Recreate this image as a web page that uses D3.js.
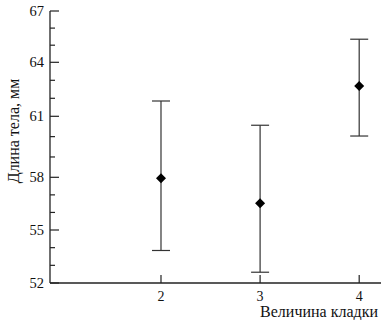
<!DOCTYPE html>
<html>
<head>
<meta charset="utf-8">
<script src="https://cdn.jsdelivr.net/npm/d3@7"></script>
<style>
  body { margin: 0; background: #fff; }
</style>
</head>
<body>
<div id="chart"></div>
<script>
// clutch size vs body length
const clutchSizes = [2, 3, 4];
const meanLength = [57.94, 56.52, 62.68];
const lowerLength = [53.84, 52.61, 60.03];
const upperLength = [61.85, 60.56, 65.35];
const yTickValues = [52, 55, 58, 61, 64, 67];
const xTickValues = [2, 3, 4];

const width = 381, height = 320;
const fontFam = "Liberation Serif";

const svg = d3.select('#chart')
  .append('svg')
  .attr('width', width)
  .attr('height', height)
  .attr('font-family', fontFam);

// x axis is a bit uneven in the source, keep simple linear
const x = d3.scaleLinear().domain([0.88, 4.22]).range([50, 381]);
// y axis in the scan isn't evenly spaced, so piecewise
const y = d3.scaleLinear()
  .domain(yTickValues)
  .range([283, 230, 177.3, 116.3, 62.3, 11]);

const yMinor = d3.range(52, 68, 1).filter(v => !yTickValues.includes(v));

// y axis: major ticks inward (to the right)
const yAxis = svg.append('g').attr('transform', 'translate(50,0)');
yAxis.append('line')
  .attr('x1', 0).attr('x2', 0)
  .attr('y1', y(67)).attr('y2', y(52))
  .attr('stroke', '#222').attr('stroke-width', 1.3);
yAxis.selectAll('line.major')
  .data(yTickValues)
  .enter().append('line')
  .attr('class', 'major')
  .attr('x1', 0).attr('x2', 9)
  .attr('y1', d => y(d)).attr('y2', d => y(d))
  .attr('stroke', '#222').attr('stroke-width', 1.2);
yAxis.selectAll('line.minor')
  .data(yMinor)
  .enter().append('line')
  .attr('class', 'minor')
  .attr('x1', 0).attr('x2', 5)
  .attr('y1', d => y(d)).attr('y2', d => y(d))
  .attr('stroke', '#222').attr('stroke-width', 1.2);
yAxis.selectAll('text')
  .data(yTickValues)
  .enter().append('text')
  .attr('x', -6)
  .attr('y', d => y(d))
  .attr('dy', '0.35em')
  .attr('text-anchor', 'end')
  .attr('font-size', 14.5)
  .attr('fill', '#111')
  .text(d => d);

// x axis
const xAxis = svg.append('g').attr('transform', 'translate(0,' + y(52) + ')');
xAxis.append('line')
  .attr('x1', 50).attr('x2', 381)
  .attr('y1', 0).attr('y2', 0)
  .attr('stroke', '#222').attr('stroke-width', 1.3);
xAxis.selectAll('line.tick')
  .data(xTickValues)
  .enter().append('line')
  .attr('class', 'tick')
  .attr('x1', d => x(d)).attr('x2', d => x(d))
  .attr('y1', 0).attr('y2', -8)
  .attr('stroke', '#222').attr('stroke-width', 1.2);
xAxis.selectAll('text')
  .data(xTickValues)
  .enter().append('text')
  .attr('x', d => x(d))
  .attr('y', 13)
  .attr('dy', '0.35em')
  .attr('text-anchor', 'middle')
  .attr('font-size', 14)
  .attr('fill', '#111')
  .text(d => d);

// axis titles
svg.append('text')
  .attr('x', 378)
  .attr('y', 311)
  .attr('dy', '0.35em')
  .attr('text-anchor', 'end')
  .attr('font-size', 16)
  .attr('fill', '#111')
  .text('Величина кладки');

svg.append('text')
  .attr('transform', 'translate(13,131) rotate(-90)')
  .attr('dy', '0.35em')
  .attr('text-anchor', 'middle')
  .attr('font-size', 16)
  .attr('fill', '#111')
  .text('Длина тела, мм');

// error bars
const pts = clutchSizes.map((c, i) => ({ c, m: meanLength[i], lo: lowerLength[i], hi: upperLength[i] }));
const bars = svg.append('g');
bars.selectAll('line.stem')
  .data(pts)
  .enter().append('line')
  .attr('class', 'stem')
  .attr('x1', d => x(d.c)).attr('x2', d => x(d.c))
  .attr('y1', d => y(d.hi)).attr('y2', d => y(d.lo))
  .attr('stroke', '#333').attr('stroke-width', 1.2);
['hi', 'lo'].forEach(k => {
  bars.selectAll('line.cap-' + k)
    .data(pts)
    .enter().append('line')
    .attr('class', 'cap-' + k)
    .attr('x1', d => x(d.c) - 9).attr('x2', d => x(d.c) + 9)
    .attr('y1', d => y(d[k])).attr('y2', d => y(d[k]))
    .attr('stroke', '#333').attr('stroke-width', 1.2);
});

// diamond markers
const diamond = d3.symbol().type(d3.symbolDiamond2).size(64);
svg.append('g').selectAll('path')
  .data(pts)
  .enter().append('path')
  .attr('d', diamond)
  .attr('transform', d => 'translate(' + x(d.c) + ',' + y(d.m) + ')')
  .attr('fill', '#000');
</script>
</body>
</html>
